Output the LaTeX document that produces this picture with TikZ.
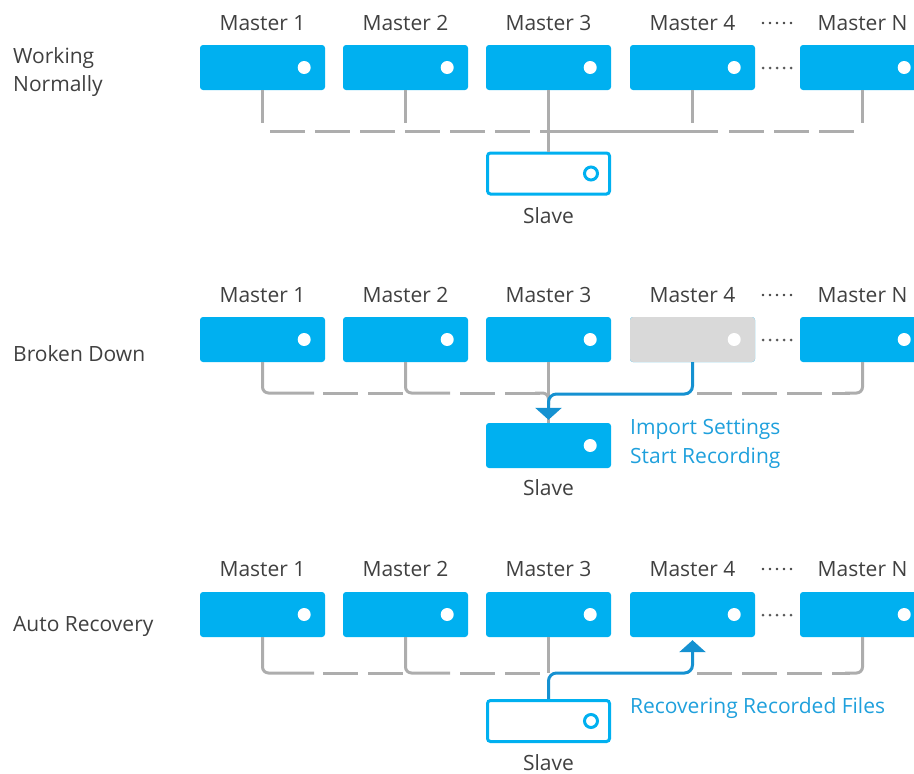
\documentclass[tikz,border=0pt]{standalone}
\usepackage{fontspec}
\setmainfont{Open Sans}
\usetikzlibrary{arrows.meta}
\definecolor{boxblue}{HTML}{00B0F0}
\definecolor{boxgrey}{HTML}{D9D9D9}
\definecolor{linegrey}{HTML}{ADADAD}
\definecolor{lineblue}{HTML}{1591D1}
\definecolor{textgrey}{HTML}{404040}
\definecolor{textblue}{HTML}{1FA0DC}
\definecolor{dotgrey}{HTML}{595959}
\begin{document}
\begin{tikzpicture}[x=1pt,y=-1pt,
  master/.style={fill=boxblue, rounded corners=3pt, minimum width=125pt, minimum height=45pt, inner sep=0pt},
  slaveo/.style={draw=boxblue, line width=3pt, fill=white, rounded corners=3pt, minimum width=122pt, minimum height=41pt, inner sep=0pt},
  lab/.style={font=\fontsize{21pt}{25pt}\selectfont, text=textgrey, inner sep=0pt},
  blab/.style={font=\fontsize{21pt}{25pt}\selectfont, text=textblue, inner sep=0pt},
  gl/.style={draw=linegrey, line width=3pt},
  gld/.style={gl, dash pattern=on 35pt off 10pt},
  bl/.style={draw=lineblue, line width=3pt},
  tip/.style={-{Triangle[width=26pt,length=12pt]}}]
\useasboundingbox (0,0) rectangle (914,774);
\clip (0,0) rectangle (914,774);

% masters
\foreach \r/\y/\ly in {1/67.5/30, 2/339.5/302, 3/614.5/576} {
  \foreach \i/\x/\t in {1/262.5/Master 1, 2/405.5/Master 2, 3/548.5/Master 3, 4/692.5/Master 4, 5/862.5/Master N} {
    \node[master] (m\r\i) at (\x,\y) {};
    \fill[white] ([xshift=-21pt]m\r\i.east) circle (6.5pt);
    \node[lab, anchor=base] (t\r\i) at (\x,\ly) {\t};
  }
}
\node[master, fill=boxgrey] (m24) at (692.5,339.5) {};
\fill[white] ([xshift=-21pt]m24.east) circle (6.5pt);

% ellipsis dots
\foreach \y in {68, 340, 615} {
  \foreach \k in {0,...,4} \fill[dotgrey] (763+7*\k,\y) circle (1.5pt);
}
\foreach \y in {23, 295, 569} {
  \foreach \k in {0,...,4} \fill[textgrey] (763+7*\k,\y) circle (1.3pt);
}

% left labels
\node[lab, anchor=base west] (w1) at (13,63) {Working};
\node[lab, anchor=base west] (w2) at (13,91) {Normally};
\node[lab, anchor=base west] (bd) at (13,361) {Broken Down};
\node[lab, anchor=base west] (ar) at (13,631) {Auto Recovery};

% slaves
\node[slaveo] (s1) at (548.5,173.5) {};
\draw[boxblue, line width=3pt] ([xshift=-20pt]s1.east) circle (6.5pt);
\node[lab, anchor=base] (sl1) at (548.5,223) {Slave};

\node[master] (s2) at (548.5,445.5) {};
\fill[white] ([xshift=-21pt]s2.east) circle (6.5pt);
\node[lab, anchor=base] (sl2) at (548.5,495) {Slave};

\node[slaveo] (s3) at (548.5,721) {};
\draw[boxblue, line width=3pt] ([xshift=-20pt]s3.east) circle (6.5pt);
\node[lab, anchor=base] (sl3) at (548.5,770) {Slave};

% blue texts
\node[blab, anchor=base west] (b1) at (630,434) {Import Settings};
\node[blab, anchor=base west] (b2) at (630,463) {Start Recording};
\node[blab, anchor=base west] (b3) at (630,713) {Recovering Recorded Files};

% row 1 connectors
\foreach \i in {1,2,4,5} \draw[gl] (m1\i.south) -- ++(0,33);
\draw[gl] (m13.south) -- (s1.north);
\draw[gld] (270,131) -- (549,131);
\draw[gl] (549,131) -- (718,131);
\draw[gld] (729,131) -- (856,131);

% row 2 connectors
\draw[gl, rounded corners=6pt] (m21.south) |- (314,393);
\draw[gld] (323,393) -- (404,393);
\draw[gl, rounded corners=6pt] (m22.south) |- (450,393);
\draw[gld] (460,393) -- (540,393);
\draw[gl, rounded corners=6pt] (535,393) -| (548.5,405);
\draw[gl] (m23.south) -- (s2.north);
\draw[gld] (697,393) -- (850,393);
\draw[gl, rounded corners=6pt] (m25.south) |- (845,393);
\draw[bl, tip, rounded corners=8pt] (m24.south) -- (692.5,394) -- (548.5,394) -- ([yshift=3pt]s2.north);

% row 3 connectors
\draw[gl, rounded corners=6pt] (m31.south) |- (314,673);
\draw[gld] (323,673) -- (404,673);
\draw[gl, rounded corners=6pt] (m32.south) |- (450,673);
\draw[gld] (460,673) -- (548.5,673);
\draw[gl] (m33.south) -- (548.5,673);
\draw[gld] (697,673) -- (850,673);
\draw[gl, rounded corners=6pt] (m35.south) |- (845,673);
\draw[bl, tip, rounded corners=8pt] (s3.north) -- (548.5,673) -- (692.5,673) -- ([yshift=-3pt]m34.south);
\end{tikzpicture}
\end{document}
